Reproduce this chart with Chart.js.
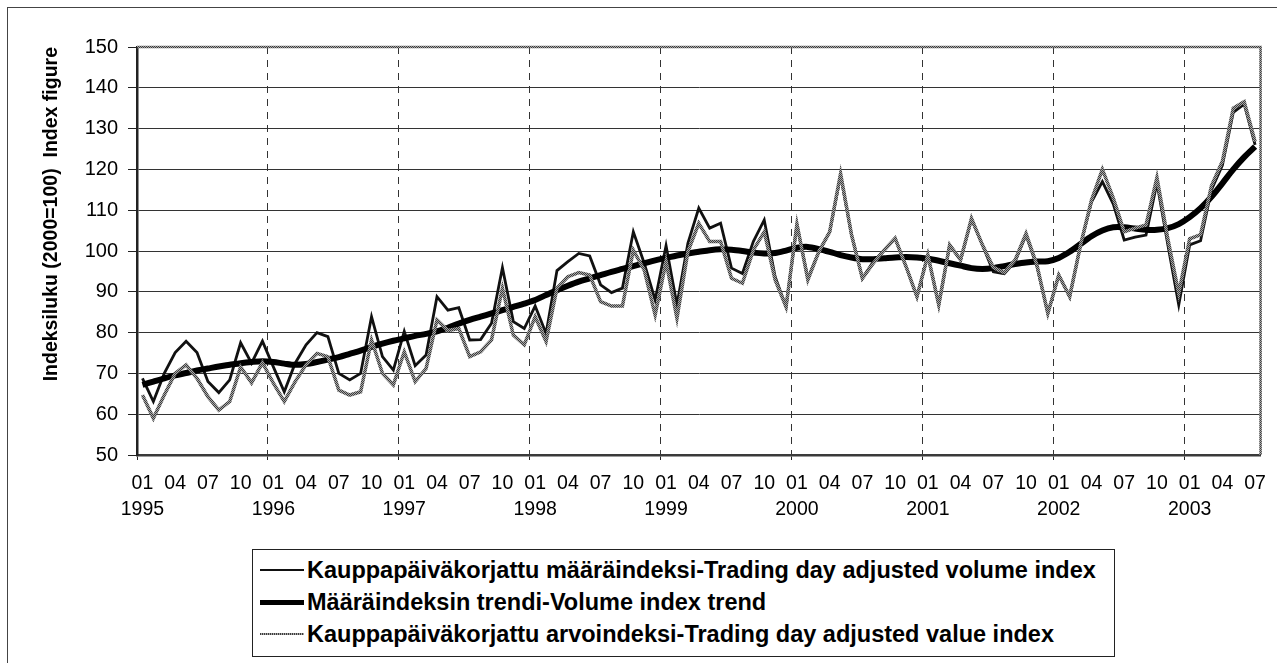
<!DOCTYPE html>
<html>
<head>
<meta charset="utf-8">
<script src="https://cdn.jsdelivr.net/npm/chart.js@4.4.1/dist/chart.umd.min.js"></script>
<style>
  html, body { margin: 0; padding: 0; background: #fff; }
  body { width: 1277px; height: 663px; position: relative; overflow: hidden;
         font-family: "Liberation Sans", Arial, sans-serif; }
  #frame { position: absolute; left: 7px; top: 7px; width: 1300px; height: 700px;
           border-left: 1px solid #444; border-top: 1px solid #444; }
  #chart { position: absolute; left: 0; top: 0; }
  #legend { position: absolute; left: 252px; top: 549px; width: 863px; height: 108px;
            box-sizing: border-box; border: 1px solid #222; background: #fff; padding-top: 4px; }
  .row { display: flex; align-items: center; height: 32px; font-weight: bold; font-size: 23.5px;
         color: #000; white-space: nowrap; }
  .swatch { width: 44px; margin-left: 7px; margin-right: 3px; }
</style>
</head>
<body>
<div id="frame"></div>
<canvas id="chart" width="1277" height="663"></canvas>
<div id="legend"></div>
<script>
const years = ["1995", "1996", "1997", "1998", "1999", "2000", "2001", "2002", "2003"];
const months = ["01", "02", "03", "04", "05", "06", "07", "08", "09", "10", "11", "12"];
const labelledMonths = ["01", "04", "07", "10"];
const lastPeriod = "2003-07";

const volumeIndex = [
  68.8, 63.1, 70.0, 75.1, 77.9, 75.1, 68.0, 65.3, 68.4, 77.5, 72.5, 77.9,
  71.6, 65.5, 72.5, 77.0, 80.0, 79.0, 70.0, 68.4, 70.0, 83.9, 74.1, 70.8,
  80.3, 71.9, 74.5, 88.8, 85.5, 86.1, 78.2, 78.3, 82.3, 95.9, 82.7, 81.0,
  86.5, 79.8, 95.2, 97.4, 99.4, 98.8, 91.7, 89.8, 90.9, 104.7, 97.0, 88.0,
  101.3, 86.8, 101.9, 110.5, 105.6, 106.8, 95.8, 94.5, 102.3, 107.6, 93.7, 86.3,
  106.4, 93.3, 99.8, 104.7, 118.5, 104.0, 93.3, 97.4, 100.2, 103.1, 96.2, 88.8,
  99.0, 86.8, 101.5, 97.8, 107.8, 101.5, 94.9, 94.4, 97.4, 103.9, 96.2, 84.7,
  94.1, 88.8, 101.5, 112.0, 117.0, 111.5, 102.7, 103.4, 103.9, 116.7, 101.5, 86.8,
  101.5, 102.5, 115.0, 121.0, 134.0, 136.0, 126.0
];

const volumeTrend = [
  67.2, 68.0, 68.8, 69.5, 70.1, 70.7, 71.2, 71.7, 72.1, 72.5, 72.8, 73.0,
  72.8, 72.4, 72.1, 72.3, 72.8, 73.4, 74.0, 74.8, 75.6, 76.5, 77.3, 78.0,
  78.6, 79.2, 79.7, 80.3, 81.2, 82.2, 83.1, 83.9, 84.7, 85.5, 86.3, 87.1,
  88.0, 89.2, 90.4, 91.5, 92.5, 93.3, 94.1, 94.9, 95.6, 96.3, 97.0, 97.7,
  98.3, 98.9, 99.4, 99.8, 100.2, 100.4, 100.3, 100.0, 99.6, 99.4, 99.5, 100.1,
  100.8, 101.0, 100.5, 99.8, 99.0, 98.4, 98.0, 98.0, 98.2, 98.4, 98.5, 98.4,
  98.1, 97.6, 97.0, 96.4, 95.8, 95.6, 95.8, 96.3, 96.8, 97.2, 97.4, 97.5,
  98.3, 99.8, 101.7, 103.6, 105.0, 105.8, 105.8, 105.5, 105.2, 105.2, 105.6, 106.6,
  108.3, 110.5, 113.3, 116.6, 120.0, 123.0, 125.6
];

const valueIndex = [
  64.7, 59.0, 64.7, 70.0, 72.1, 68.8, 64.3, 61.0, 63.1, 71.6, 67.7, 72.6,
  67.6, 63.1, 68.0, 72.1, 74.9, 74.1, 65.9, 64.7, 65.5, 78.2, 70.0, 67.2,
  75.3, 68.0, 71.2, 83.1, 80.5, 81.0, 74.1, 75.3, 78.2, 90.9, 79.4, 77.0,
  83.9, 77.8, 90.9, 93.7, 94.7, 94.1, 87.6, 86.5, 86.5, 100.2, 95.3, 84.3,
  97.4, 83.5, 99.8, 106.8, 102.3, 102.3, 93.3, 92.1, 100.2, 104.7, 92.9, 86.3,
  106.6, 92.9, 99.8, 104.7, 119.0, 104.0, 93.3, 97.0, 100.2, 103.1, 96.2, 88.8,
  99.0, 86.8, 101.5, 97.8, 108.0, 101.5, 96.0, 94.7, 97.8, 104.3, 96.6, 84.7,
  94.1, 88.8, 101.5, 112.5, 120.0, 113.0, 104.7, 105.6, 106.4, 118.0, 103.0, 89.6,
  103.0, 104.0, 116.0, 122.0, 135.0, 136.6, 126.8
];

const seriesNames = [
  "Kauppapäiväkorjattu määräindeksi-Trading day adjusted volume index",
  "Määräindeksin trendi-Volume index trend",
  "Kauppapäiväkorjattu arvoindeksi-Trading day adjusted value index"
];
const yTitle = "Indeksiluku (2000=100)  Index figure";

// monthly categories 1995-01 .. 2003-07
const periods = [];
years.forEach((y) => months.forEach((m) => periods.push(`${y}-${m}`)));
const categories = periods.slice(0, periods.indexOf(lastPeriod) + 1);

// grainy grey stroke like the printed value-index line
function grainPattern() {
  const c = document.createElement("canvas");
  c.width = 2;
  c.height = 2;
  const g = c.getContext("2d");
  g.fillStyle = "#a8a8a8";
  g.fillRect(0, 0, 2, 2);
  g.fillStyle = "#3c3c3c";
  g.fillRect(0, 0, 1, 1);
  g.fillRect(1, 1, 1, 1);
  return g.createPattern(c, "repeat");
}
const grain = grainPattern();

const plotFrame = {
  id: "plotFrame",
  afterDraw(chart) {
    const { ctx, chartArea: a } = chart;
    ctx.save();
    ctx.strokeStyle = grain;
    ctx.lineWidth = 2.5;
    ctx.beginPath();
    ctx.moveTo(a.left, a.top);
    ctx.lineTo(a.right, a.top);
    ctx.lineTo(a.right, a.bottom);
    ctx.stroke();
    ctx.restore();
  },
};

const chart = new Chart(document.getElementById("chart"), {
  type: "line",
  data: {
    labels: categories,
    datasets: [
      {
        label: seriesNames[0],
        data: volumeIndex,
        borderColor: "#111",
        borderWidth: 2.8,
        tension: 0,
        order: 2,
      },
      {
        label: seriesNames[1],
        data: volumeTrend,
        borderColor: "#000",
        borderWidth: 6,
        tension: 0.3,
        order: 1,
      },
      {
        label: seriesNames[2],
        data: valueIndex,
        borderColor: grain,
        borderWidth: 3.5,
        tension: 0,
        order: 0,
      },
    ],
  },
  options: {
    responsive: false,
    animation: false,
    devicePixelRatio: 1,
    layout: { padding: { left: 30, top: 47, right: 10, bottom: 0 } },
    elements: { point: { radius: 0, hoverRadius: 0 } },
    plugins: {
      legend: { display: false },
      tooltip: { enabled: false },
    },
    scales: {
      x: {
        offset: true,
        grid: {
          offset: true,
          color: (c) => (c.index % 12 === 0 ? "#333" : "transparent"),
          tickColor: (c) => (c.index % 12 === 0 ? "#222" : "transparent"),
          tickLength: 5,
          tickBorderDash: [],
          lineWidth: 1,
        },
        border: { color: "#3a3a3a", width: 2.5, dash: [7, 6] },
        ticks: {
          autoSkip: false,
          maxRotation: 0,
          minRotation: 0,
          padding: 11,
          color: "#000",
          font: { family: "'Liberation Sans', Arial, sans-serif", size: 19.5, lineHeight: 1.33 },
          callback(value, index) {
            const [y, m] = categories[index].split("-");
            if (!labelledMonths.includes(m)) return "";
            return m === "01" ? [m, y] : m;
          },
        },
        afterFit(scale) {
          scale.height = 663 - 455;
        },
      },
      y: {
        min: 50,
        max: 150,
        ticks: {
          stepSize: 10,
          padding: 10,
          color: "#000",
          font: { family: "'Liberation Sans', Arial, sans-serif", size: 20 },
        },
        grid: { color: "#333", lineWidth: 1, tickLength: 9, tickColor: "#222" },
        border: { color: "#222", width: 2.5 },
        title: {
          display: true,
          text: yTitle,
          align: "end",
          color: "#000",
          padding: { top: 10, bottom: 0 },
          font: { family: "'Liberation Sans', Arial, sans-serif", size: 19.5, weight: "bold" },
        },
        afterFit(scale) {
          scale.width = 107;
        },
      },
    },
  },
  plugins: [plotFrame],
});

// legend box built from the datasets
const legendSwatch = [
  "height:2px;background:#111;",
  "height:5px;background:#000;",
  "height:2px;background:repeating-linear-gradient(90deg,#3c3c3c 0 1px,#a8a8a8 1px 2px);",
];
const legendEl = document.getElementById("legend");
chart.data.datasets.forEach((ds, i) => {
  const row = document.createElement("div");
  row.className = "row";
  const sw = document.createElement("span");
  sw.className = "swatch";
  sw.style.cssText = legendSwatch[i];
  const txt = document.createElement("span");
  txt.textContent = ds.label;
  row.appendChild(sw);
  row.appendChild(txt);
  legendEl.appendChild(row);
});
</script>
</body>
</html>
